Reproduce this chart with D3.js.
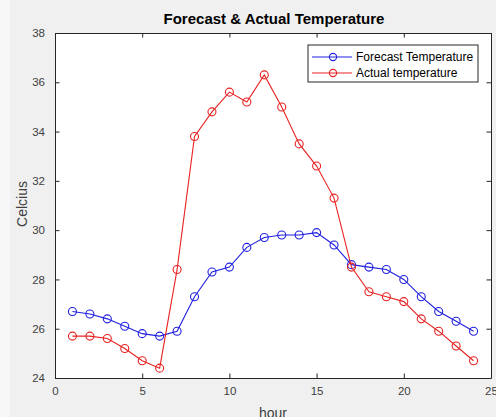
<!DOCTYPE html>
<html>
<head>
<meta charset="utf-8">
<script src="https://cdn.jsdelivr.net/npm/d3@7/dist/d3.min.js"></script>
<style>
  html, body { margin: 0; padding: 0; background: #f0f0f0; }
  svg { display: block; font-family: "Liberation Sans", Arial, sans-serif; }
</style>
</head>
<body>
<svg id="chart" width="496" height="417"></svg>
<script>
// Hourly temperatures (°C)
const hours = [1,2,3,4,5,6,7,8,9,10,11,12,13,14,15,16,17,18,19,20,21,22,23,24];
const forecastTemp = [26.7,26.6,26.4,26.1,25.8,25.7,25.9,27.3,28.3,28.5,29.3,29.7,29.8,29.8,29.9,29.4,28.6,28.5,28.4,28.0,27.3,26.7,26.3,25.9];
const actualTemp   = [25.7,25.7,25.6,25.2,24.7,24.4,28.4,33.8,34.8,35.6,35.2,36.3,35.0,33.5,32.6,31.3,28.5,27.5,27.3,27.1,26.4,25.9,25.3,24.7];
const xTicks = [0,5,10,15,20,25];
const yTicks = [24,26,28,30,32,34,36,38];
const seriesNames = ["Forecast Temperature", "Actual temperature"];
const seriesColors = ["#2020e0", "#e82222"];

const W = 496, H = 417;
const plot = { left: 55, right: 491, top: 33, bottom: 378 };

const svg = d3.select("#chart");

// figure background with the lighter strip at the left edge
svg.append("rect").attr("x", 0).attr("y", 0).attr("width", W).attr("height", H).attr("fill", "#f0f0f0");
svg.append("rect").attr("x", 0).attr("y", 0).attr("width", 10).attr("height", H).attr("fill", "#f7f7f7");

const x = d3.scaleLinear().domain([0, 25]).range([plot.left, plot.right]);
const y = d3.scaleLinear().domain([24, 38]).range([plot.bottom, plot.top]);

// axes background
svg.append("rect")
  .attr("x", plot.left).attr("y", plot.top)
  .attr("width", plot.right - plot.left).attr("height", plot.bottom - plot.top)
  .attr("fill", "#ffffff");

const tickLen = 4.5;
const axisColor = "#262626";
const labelColor = "#404040";

// bottom axis with inward ticks
const xAxis = svg.append("g").attr("transform", `translate(0,${plot.bottom})`)
  .call(d3.axisBottom(x).tickValues(xTicks).tickSizeInner(-tickLen).tickSizeOuter(0).tickPadding(9));
// left axis with inward ticks
const yAxis = svg.append("g").attr("transform", `translate(${plot.left},0)`)
  .call(d3.axisLeft(y).tickValues(yTicks).tickSizeInner(-tickLen).tickSizeOuter(0).tickPadding(10));
// top and right mirrored ticks (box on)
const xTop = svg.append("g").attr("transform", `translate(0,${plot.top})`)
  .call(d3.axisTop(x).tickValues(xTicks).tickSizeInner(-tickLen).tickSizeOuter(0).tickFormat(""));
const yRight = svg.append("g").attr("transform", `translate(${plot.right},0)`)
  .call(d3.axisRight(y).tickValues(yTicks).tickSizeInner(-tickLen).tickSizeOuter(0).tickFormat(""));

[xAxis, yAxis, xTop, yRight].forEach(g => {
  g.select(".domain").attr("stroke", axisColor).attr("stroke-width", 1);
  g.selectAll(".tick line").attr("stroke", axisColor);
  g.selectAll(".tick text").attr("fill", labelColor).attr("font-size", 11.5)
    .attr("font-family", "\"Liberation Sans\", Arial, sans-serif");
});

// title and axis labels
svg.append("text").attr("x", 274).attr("y", 24)
  .attr("text-anchor", "middle").attr("font-size", 15).attr("font-weight", "bold")
  .attr("fill", "#000").text("Forecast & Actual Temperature");
svg.append("text").attr("x", 273).attr("y", 418)
  .attr("text-anchor", "middle").attr("font-size", 14).attr("fill", labelColor).text("hour");
svg.append("text")
  .attr("transform", `translate(27,204) rotate(-90)`)
  .attr("text-anchor", "middle").attr("font-size", 14).attr("fill", labelColor).text("Celcius");

// series lines with open circle markers
const series = [forecastTemp, actualTemp];
const line = d3.line().x((d, i) => x(hours[i])).y(d => y(d));
series.forEach((vals, s) => {
  const g = svg.append("g");
  g.append("path").datum(vals).attr("d", line)
    .attr("fill", "none").attr("stroke", seriesColors[s]).attr("stroke-width", 1.1);
  g.selectAll("circle").data(vals).join("circle")
    .attr("cx", (d, i) => x(hours[i])).attr("cy", d => y(d)).attr("r", 4)
    .attr("fill", "none").attr("stroke", seriesColors[s]).attr("stroke-width", 1.1);
});

// legend
const lg = svg.append("g").attr("transform", "translate(308,45)");
lg.append("rect").attr("x", 0).attr("y", 0).attr("width", 170).attr("height", 37)
  .attr("fill", "#ffffff").attr("stroke", "#262626").attr("stroke-width", 1);
seriesNames.forEach((name, s) => {
  const cy = 12 + s * 16;
  lg.append("line").attr("x1", 4).attr("x2", 44).attr("y1", cy).attr("y2", cy)
    .attr("stroke", seriesColors[s]).attr("stroke-width", 1.1);
  lg.append("circle").attr("cx", 25).attr("cy", cy).attr("r", 3.6)
    .attr("fill", "none").attr("stroke", seriesColors[s]).attr("stroke-width", 1.1);
  lg.append("text").attr("x", 48).attr("y", cy + 4).attr("font-size", 12)
    .attr("fill", "#000").text(name);
});
</script>
</body>
</html>
